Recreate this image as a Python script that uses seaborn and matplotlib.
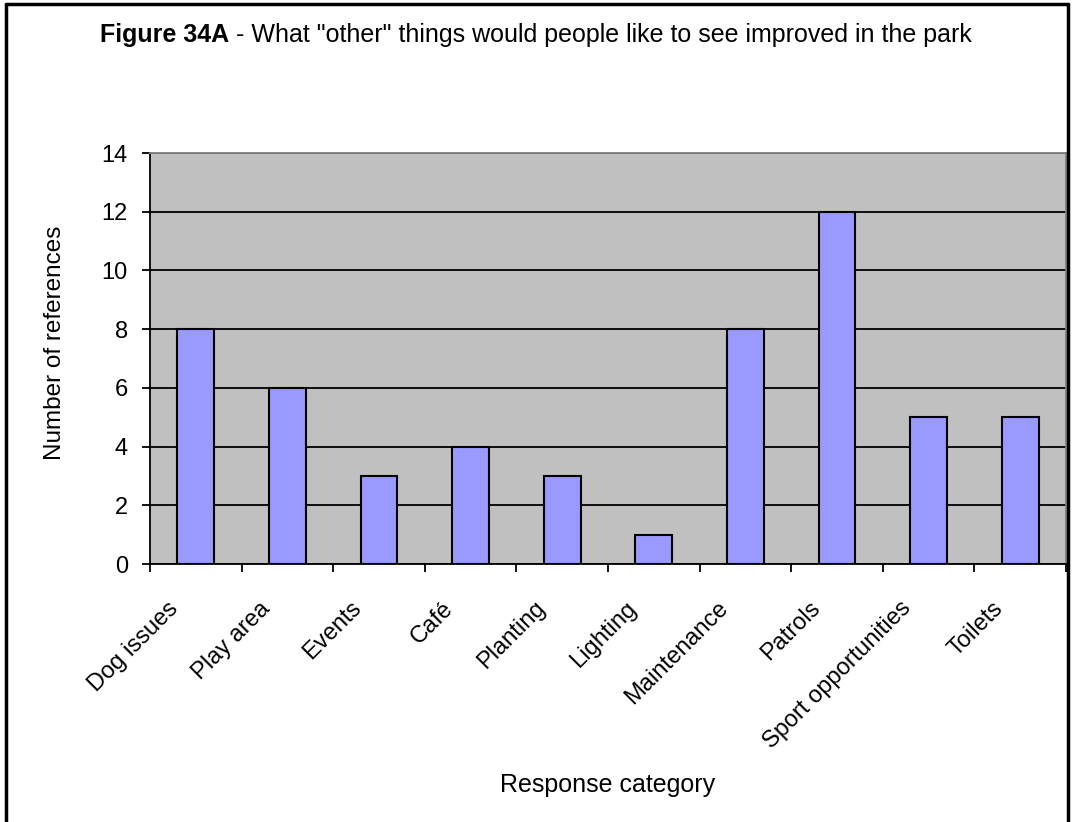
import numpy as np
import pandas as pd
import matplotlib
matplotlib.use("Agg")
import matplotlib.pyplot as plt
import seaborn as sns
from matplotlib.lines import Line2D
from matplotlib.ticker import FixedLocator, MultipleLocator

categories = ["Dog issues", "Play area", "Events", "Café", "Planting", "Lighting",
              "Maintenance", "Patrols", "Sport opportunities", "Toilets"]
references = [8, 6, 3, 4, 3, 1, 8, 12, 5, 5]

df = pd.DataFrame({"category": categories, "count": references})

sns.set_theme(style="white")
plt.rcParams["font.family"] = ["Liberation Sans", "DejaVu Sans"]
plt.rcParams["text.color"] = "black"

fig = plt.figure(figsize=(10.72, 8.22), dpi=100)
ax = fig.add_axes([150 / 1072, 1 - 564 / 822, 916 / 1072, 411 / 822])
ax.set_facecolor("#C0C0C0")

sns.barplot(data=df, x="category", y="count", color="#9999FF", width=0.4,
            edgecolor="black", linewidth=1.5, saturation=1, ax=ax)

n = len(categories)
ax.set_xlim(-0.5, n - 0.5)
ax.set_ylim(0, 14)
ax.yaxis.set_major_locator(MultipleLocator(2))
ax.set_axisbelow(True)
ax.yaxis.grid(True, color="black", linewidth=1.3)
ax.xaxis.grid(False)

# labels sit a little left of the category centre (Excel style), ticks between categories
ax.set_xticks(np.arange(n) - 0.31, labels=categories)
ax.xaxis.set_minor_locator(FixedLocator(np.arange(-0.5, n, 1.0)))
ax.tick_params(axis="x", which="major", length=0, pad=24)
ax.tick_params(axis="x", which="minor", length=6, width=1.3, color="black", direction="out", bottom=True)
ax.tick_params(axis="y", which="major", length=6, width=1.3, color="black", direction="out", left=True, pad=10)
ax.tick_params(labelsize=17, labelcolor="black")
plt.setp(ax.get_xticklabels(), rotation=45, ha="right", va="top", rotation_mode="anchor")

for side in ["left", "bottom"]:
    ax.spines[side].set_color("black")
    ax.spines[side].set_linewidth(1.3)
for side in ["top", "right"]:
    ax.spines[side].set_color("#808080")
    ax.spines[side].set_linewidth(1.3)

ax.set_xlabel("Response category", fontsize=18, color="black")
ax.xaxis.set_label_coords(0.5, -0.508)
ax.set_ylabel("Number of references", fontsize=17.5, color="black")
ax.yaxis.set_label_coords(-0.092, 0.538)

# title: bold part followed by regular part, centred as a whole
ty = 1 - 35 / 822
t1 = fig.text(0, ty, "Figure 34A", fontsize=18, fontweight="bold", va="center", color="black")
t2 = fig.text(0, ty, " - What \"other\" things would people like to see improved in the park",
              fontsize=18, va="center", color="black")
fig.canvas.draw()
r = fig.canvas.get_renderer()
w1 = t1.get_window_extent(r).width / fig.bbox.width
w2 = t2.get_window_extent(r).width / fig.bbox.width
x0 = 536 / 1072 - (w1 + w2) / 2
t1.set_x(x0)
t2.set_x(x0 + w1)

# frame around the chart
fl, fr, ft = 6 / 1072, 1068 / 1072, 1 - 4 / 822
for xs, ys in [([fl, fl], [0, ft]), ([fl, fr], [ft, ft]), ([fr, fr], [0, ft])]:
    fig.add_artist(Line2D(xs, ys, color="black", linewidth=2.5, transform=fig.transFigure))

fig.savefig("out.png", dpi=100)
